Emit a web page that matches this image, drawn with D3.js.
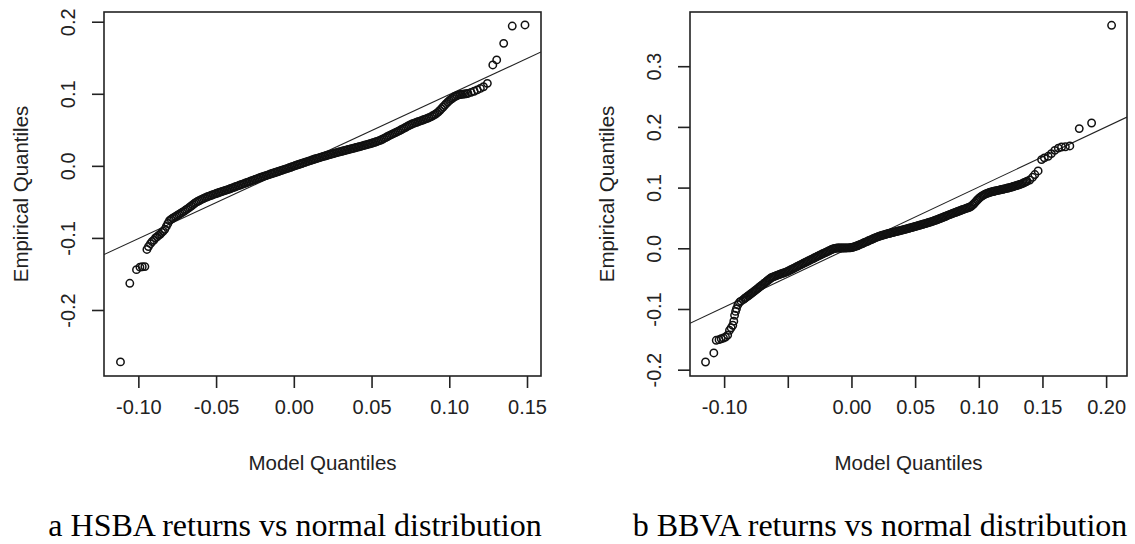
<!DOCTYPE html>
<html><head><meta charset="utf-8">
<script src="https://cdn.jsdelivr.net/npm/d3@7"></script>
<style>body{margin:0;background:#fff}svg{display:block}</style>
</head><body>
<svg id="c" width="1135" height="544"></svg>
<script>
// ---- data ----
const hsbaModel = [
-0.1115,-0.1055,-0.1012,-0.0990,-0.0975,-0.0958,-0.0945,-0.0935,-0.0922,-0.0912,-0.0900,-0.0890,-0.0880,-0.0870,-0.0860,-0.0850,-0.0840,-0.0830,-0.0820,-0.0810,-0.0800,
-.079,-.078,-.077,-.076,-.075,-.074,-.073,-.072,-.071,-.070,
-.069,-.068,-.067,-.066,-.065,-.064,-.063,-.062,-.061,-.060,
-.059,-.058,-.057,-.056,-.055,-.054,-.053,-.052,-.051,-.050,
-.049,-.048,-.047,-.046,-.045,-.044,-.043,-.042,-.041,-.040,
-.039,-.038,-.037,-.036,-.035,-.034,-.033,-.032,-.031,-.030,
-.029,-.028,-.027,-.026,-.025,-.024,-.023,-.022,-.021,-.020,
-.019,-.018,-.017,-.016,-.015,-.014,-.013,-.012,-.011,-.010,
-.009,-.008,-.007,-.006,-.005,-.004,-.003,-.002,-.001,.000,
.001,.002,.003,.004,.005,.006,.007,.008,.009,.010,
.011,.012,.013,.014,.015,.016,.017,.018,.019,.020,
.021,.022,.023,.024,.025,.026,.027,.028,.029,.030,
.031,.032,.033,.034,.035,.036,.037,.038,.039,.040,
.041,.042,.043,.044,.045,.046,.047,.048,.049,.050,
.051,.052,.053,.054,.055,.056,.057,.058,.059,.060,
.061,.062,.063,.064,.065,.066,.067,.068,.069,.070,
.071,.072,.073,.074,.075,.076,.077,.078,.079,.080,
.081,.082,.083,.084,.085,.086,.087,.088,.089,.090,
.091,.092,.093,.094,.095,.096,.097,.098,.099,.100,
.101,.102,.103,.104,.105,.106,.107,.108,.109,.110,
.111,.112,
0.1140,0.1160,0.1180,0.1200,0.1220,0.1245,
0.1280,0.1305,0.1350,0.1405,0.1487];
const hsbaEmp = [
-0.2720,-0.1630,-0.1440,-0.1405,-0.1400,-0.1398,-0.1160,-0.1120,-0.1080,-0.1050,-0.1030,-0.1000,-0.0985,-0.0965,-0.0950,-0.0925,-0.0905,-0.0880,-0.0840,-0.0800,-0.0760,
-.0742,-.0728,-.0715,-.0702,-.0689,-.0675,-.0662,-.0648,-.0635,-.0620,
-.0605,-.0590,-.0573,-.0557,-.0540,-.0523,-.0508,-.0495,-.0484,-.0473,
-.0462,-.0452,-.0442,-.0433,-.0424,-.0416,-.0408,-.0400,-.0392,-.0384,
-.0377,-.0369,-.0362,-.0355,-.0347,-.0340,-.0333,-.0326,-.0318,-.0310,
-.0302,-.0294,-.0286,-.0278,-.0270,-.0262,-.0254,-.0246,-.0238,-.0230,
-.0222,-.0214,-.0206,-.0198,-.0190,-.0182,-.0174,-.0166,-.0158,-.0150,
-.0143,-.0135,-.0128,-.0121,-.0113,-.0106,-.0099,-.0092,-.0085,-.0078,
-.0071,-.0064,-.0057,-.0049,-.0042,-.0035,-.0027,-.0020,-.0012,-.0005,
.0004,.0011,.0018,.0026,.0033,.0040,.0047,.0054,.0062,.0069,
.0076,.0084,.0091,.0098,.0104,.0111,.0118,.0124,.0131,.0137,
.0143,.0150,.0156,.0162,.0168,.0174,.0180,.0186,.0192,.0197,
.0203,.0209,.0214,.0220,.0226,.0231,.0237,.0242,.0248,.0254,
.0260,.0265,.0271,.0277,.0283,.0289,.0295,.0301,.0307,.0313,
.0320,.0327,.0334,.0342,.0350,.0359,.0369,.0380,.0392,.0404,
.0415,.0426,.0437,.0447,.0457,.0467,.0478,.0489,.0501,.0512,
.0524,.0536,.0548,.0560,.0570,.0580,.0589,.0597,.0605,.0613,
.0620,.0628,.0636,.0644,.0652,.0660,.0670,.0680,.0691,.0703,
.0716,.0732,.0750,.0770,.0793,.0817,.0840,.0863,.0885,.0905,
.0922,.0938,.0955,.0966,.0976,.0985,.0990,.0993,.0996,.0998,
.1001,.1005,
0.1020,0.1035,0.1055,0.1075,0.1098,0.1145,
0.1400,0.1470,0.1700,0.1940,0.1955];

const bbvaModel = [
-0.1146,-0.1081,-0.1062,-0.1040,-0.1023,-0.1005,-0.0989,-0.0972,-0.0958,-0.0945,-0.0932,-0.0924,-0.0918,-0.0910,-0.0903,-0.0892,-0.0880,-0.0868,
-.085,-.084,-.083,-.082,-.081,-.080,-.079,-.078,-.077,-.076,
-.075,-.074,-.073,-.072,-.071,-.070,-.069,-.068,-.067,-.066,
-.065,-.064,-.063,-.062,-.061,-.060,-.059,-.058,-.057,-.056,
-.055,-.054,-.053,-.052,-.051,-.050,-.049,-.048,-.047,-.046,
-.045,-.044,-.043,-.042,-.041,-.040,-.039,-.038,-.037,-.036,
-.035,-.034,-.033,-.032,-.031,-.030,-.029,-.028,-.027,-.026,
-.025,-.024,-.023,-.022,-.021,-.020,-.019,-.018,-.017,-.016,
-.015,-.014,-.013,-.012,-.011,-.010,-.009,-.008,-.007,-.006,
-.005,-.004,-.003,-.002,-.001,.000,.001,.002,.003,.004,
.005,.006,.007,.008,.009,.010,.011,.012,.013,.014,
.015,.016,.017,.018,.019,.020,.021,.022,.023,.024,
.025,.026,.027,.028,.029,.030,.031,.032,.033,.034,
.035,.036,.037,.038,.039,.040,.041,.042,.043,.044,
.045,.046,.047,.048,.049,.050,.051,.052,.053,.054,
.055,.056,.057,.058,.059,.060,.061,.062,.063,.064,
.065,.066,.067,.068,.069,.070,.071,.072,.073,.074,
.075,.076,.077,.078,.079,.080,.081,.082,.083,.084,
.085,.086,.087,.088,.089,.090,.091,.092,.093,.094,
.095,.096,.097,.098,.099,.100,.101,.102,.103,.104,
.105,.106,.107,.108,.109,.110,.111,.112,.113,.114,
.115,.116,.117,.118,.119,.120,.121,.122,.123,.124,
.125,.126,.127,.128,.129,.130,.131,.132,.133,.134,
.135,.136,.137,.138,
0.1400,0.1422,0.1440,0.1466,0.1493,0.1515,0.1545,0.1570,0.1597,0.1625,0.1650,0.1680,0.1715,0.1789,0.1886,0.2043];
const bbvaEmp = [
-0.1873,-0.1724,-0.1516,-0.1505,-0.1490,-0.1478,-0.1462,-0.1430,-0.1351,-0.1310,-0.1268,-0.1200,-0.1104,-0.1040,-0.0994,-0.0930,-0.0890,-0.0870,
-.0846,-.0828,-.0813,-.0797,-.0782,-.0766,-.0750,-.0734,-.0718,-.0702,
-.0686,-.0669,-.0651,-.0634,-.0618,-.0602,-.0585,-.0568,-.0552,-.0535,
-.0518,-.0502,-.0485,-.0475,-.0467,-.0458,-.0450,-.0442,-.0434,-.0427,
-.0419,-.0412,-.0405,-.0397,-.0389,-.0379,-.0369,-.0358,-.0347,-.0337,
-.0326,-.0315,-.0305,-.0294,-.0283,-.0273,-.0262,-.0251,-.0241,-.0230,
-.0220,-.0209,-.0199,-.0188,-.0178,-.0168,-.0157,-.0147,-.0136,-.0125,
-.0115,-.0105,-.0095,-.0085,-.0075,-.0065,-.0055,-.0045,-.0035,-.0025,
-.0015,-.0008,-.0002,.0002,.0004,.0004,.0005,.0005,.0005,.0006,
.0006,.0006,.0007,.0007,.0008,.0012,.0017,.0023,.0030,.0038,
.0046,.0055,.0064,.0073,.0082,.0092,.0101,.0110,.0119,.0129,
.0138,.0147,.0157,.0166,.0175,.0184,.0192,.0199,.0206,.0213,
.0219,.0225,.0231,.0237,.0243,.0248,.0253,.0259,.0264,.0269,
.0275,.0280,.0285,.0291,.0296,.0301,.0307,.0312,.0318,.0324,
.0329,.0335,.0341,.0347,.0353,.0359,.0365,.0371,.0377,.0383,
.0389,.0395,.0401,.0407,.0413,.0420,.0427,.0433,.0440,.0447,
.0455,.0462,.0470,.0478,.0486,.0494,.0503,.0511,.0520,.0528,
.0537,.0545,.0554,.0562,.0570,.0578,.0586,.0594,.0602,.0610,
.0618,.0626,.0634,.0642,.0650,.0658,.0664,.0672,.0680,.0692,
.0710,.0730,.0753,.0777,.0800,.0820,.0838,.0855,.0868,.0880,
.0892,.0901,.0909,.0916,.0923,.0929,.0935,.0940,.0945,.0950,
.0955,.0959,.0964,.0969,.0973,.0978,.0983,.0988,.0993,.0998,
.1003,.1010,.1017,.1023,.1030,.1037,.1043,.1050,.1058,.1066,
.1075,.1085,.1095,.1105,
0.1125,0.1170,0.1215,0.1274,0.1461,0.1490,0.1516,0.1560,0.1614,0.1650,0.1669,0.1672,0.1686,0.1972,0.2064,0.3674];

const hsbaXTicks = [-0.10,-0.05,0.00,0.05,0.10,0.15];
const hsbaXLabels = ["-0.10","-0.05","0.00","0.05","0.10","0.15"];
const hsbaYTicks = [-0.2,-0.1,0.0,0.1,0.2];
const hsbaYLabels = ["-0.2","-0.1","0.0","0.1","0.2"];
const bbvaXTicks = [-0.10,-0.05,0.00,0.05,0.10,0.15,0.20];
const bbvaXLabels = ["-0.10","","0.00","0.05","0.10","0.15","0.20"];
const bbvaYTicks = [-0.2,-0.1,0.0,0.1,0.2,0.3];
const bbvaYLabels = ["-0.2","-0.1","0.0","0.1","0.2","0.3"];

const hsbaLine = [1.0, -0.001];   // slope, intercept
const bbvaLine = [0.99, 0.002];

const xTitle = "Model Quantiles";
const yTitle = "Empirical Quantiles";
const captions = ["a HSBA returns vs normal distribution", "b BBVA returns vs normal distribution"];

// ---- drawing ----
const svg = d3.select("#c");
const ink = "#222";
const sans = "'Liberation Sans', Arial, sans-serif";
const fs = 20;

function panel(id, o) {
  const x = d3.scaleLinear().domain(o.xd).range([o.x0, o.x1]);
  const y = d3.scaleLinear().domain(o.yd).range([o.y1, o.y0]);
  const g = svg.append("g");
  g.append("clipPath").attr("id", "clip" + id).append("rect")
    .attr("x", o.x0).attr("y", o.y0).attr("width", o.x1 - o.x0).attr("height", o.y1 - o.y0);

  const xa = d3.axisBottom(x).tickValues(o.xt).tickSize(12).tickPadding(12)
    .tickFormat((d, i) => o.xl[i]);
  const gx = g.append("g").attr("transform", `translate(0,${o.y1})`).call(xa);
  gx.select(".domain").remove();
  gx.selectAll("line").attr("stroke", ink).attr("stroke-width", 1.6);
  gx.selectAll("text").attr("font-family", sans).attr("font-size", fs).attr("fill", ink);

  const ya = d3.axisLeft(y).tickValues(o.yt).tickSize(12).tickPadding(0)
    .tickFormat((d, i) => o.yl[i]);
  const gy = g.append("g").attr("transform", `translate(${o.x0},0)`).call(ya);
  gy.select(".domain").remove();
  gy.selectAll("line").attr("stroke", ink).attr("stroke-width", 1.6);
  gy.selectAll("text").attr("font-family", sans).attr("font-size", fs).attr("fill", ink)
    .attr("x", null).attr("dy", null)
    .attr("text-anchor", "middle")
    .attr("transform", "translate(-36,0) rotate(-90)")
    .attr("dominant-baseline", "central");

  g.append("rect").attr("x", o.x0).attr("y", o.y0).attr("width", o.x1 - o.x0).attr("height", o.y1 - o.y0)
    .attr("fill", "none").attr("stroke", ink).attr("stroke-width", 1.6);

  const xs = x.domain();
  g.append("line").attr("clip-path", `url(#clip${id})`)
    .attr("x1", x(xs[0])).attr("y1", y(o.line[0] * xs[0] + o.line[1]))
    .attr("x2", x(xs[1])).attr("y2", y(o.line[0] * xs[1] + o.line[1]))
    .attr("stroke", ink).attr("stroke-width", 1.1);

  g.append("g").selectAll("circle").data(o.mx.map((v, i) => [v, o.my[i]])).join("circle")
    .attr("cx", d => x(d[0])).attr("cy", d => y(d[1])).attr("r", 3.7)
    .attr("fill", "none").attr("stroke", "#111").attr("stroke-width", 1.5);

  g.append("text").attr("x", (o.x0 + o.x1) / 2).attr("y", o.y1 + 86)
    .attr("text-anchor", "middle").attr("dominant-baseline", "central")
    .attr("font-family", sans).attr("font-size", 20.5).attr("fill", ink).text(xTitle);
  g.append("text").attr("transform", `translate(${o.x0 - 84},${(o.y0 + o.y1) / 2}) rotate(-90)`)
    .attr("text-anchor", "middle").attr("dominant-baseline", "central")
    .attr("font-family", sans).attr("font-size", 20.5).attr("fill", ink).text(yTitle);
  svg.append("text").attr("x", o.cx).attr("y", 525)
    .attr("text-anchor", "middle").attr("dominant-baseline", "central")
    .attr("font-family", "'Liberation Serif', 'DejaVu Serif', serif").attr("font-size", 32)
    .attr("fill", "#000").text(o.cap);
}

panel("a", {x0: 104, x1: 541, y0: 12, y1: 376, xd: [-0.1221, 0.159], yd: [-0.2916, 0.2135],
  xt: hsbaXTicks, xl: hsbaXLabels, yt: hsbaYTicks, yl: hsbaYLabels, line: hsbaLine,
  mx: hsbaModel, my: hsbaEmp, cap: captions[0], cx: 295});
panel("b", {x0: 690, x1: 1127, y0: 12, y1: 376, xd: [-0.1268, 0.2164], yd: [-0.2104, 0.3893],
  xt: bbvaXTicks, xl: bbvaXLabels, yt: bbvaYTicks, yl: bbvaYLabels, line: bbvaLine,
  mx: bbvaModel, my: bbvaEmp, cap: captions[1], cx: 880});
</script>
</body></html>
